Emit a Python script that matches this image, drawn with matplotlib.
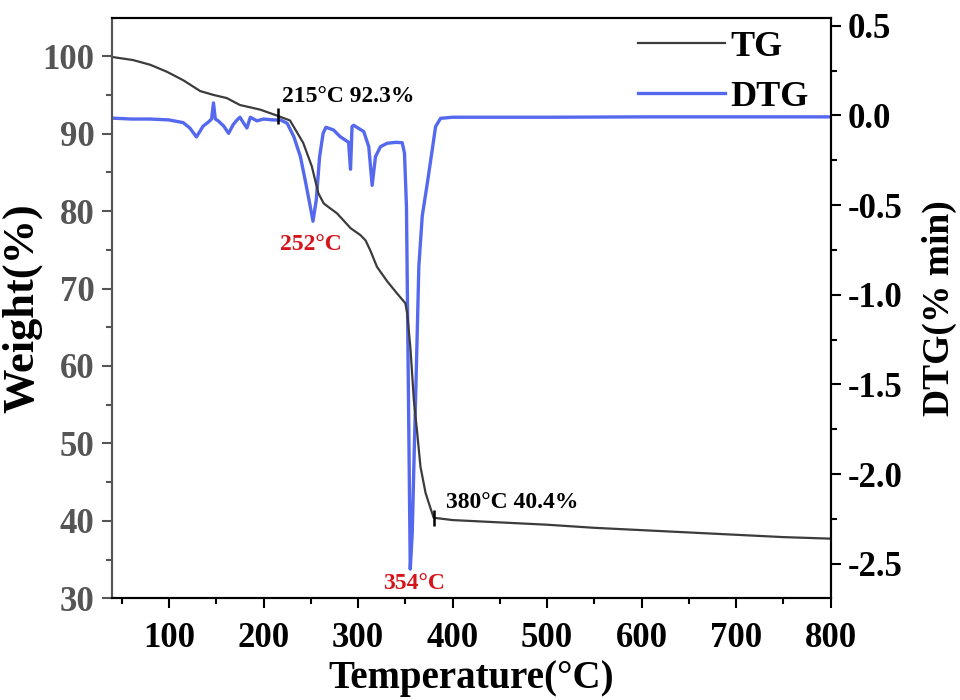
import matplotlib
matplotlib.use("Agg")
import matplotlib.pyplot as plt
from matplotlib.ticker import MultipleLocator

plt.rcParams["font.family"] = ["Liberation Serif", "DejaVu Serif"]
plt.rcParams["font.weight"] = "bold"
plt.rcParams["axes.unicode_minus"] = False

# ── data ─────────────────────────────────────────────────────────────────────
tg_temp = [40, 62, 80, 97.6, 115, 133, 147, 161, 175, 196.5, 215, 228, 242,
           251, 258, 263.6, 270, 277.8, 292, 302.5, 308, 313, 320, 331, 341,
           350, 352, 355.5, 359, 362.6, 366, 371.4, 376.7, 380, 400, 450, 500,
           550, 600, 650, 700, 750, 800]
tg_weight = [99.9, 99.5, 98.9, 98.0, 96.9, 95.5, 95.0, 94.6, 93.7, 93.1, 92.3,
             91.7, 88.8, 85.8, 82.3, 81.0, 80.4, 79.7, 77.8, 76.9, 76.2, 74.9,
             72.8, 70.9, 69.4, 68.1, 66.8, 62.1, 55.6, 51.3, 47.0, 43.6, 41.6,
             40.4, 40.1, 39.8, 39.5, 39.1, 38.8, 38.5, 38.2, 37.9, 37.7]

dtg_temp = [40, 60, 80, 100, 115, 122, 129, 136, 142, 145, 147, 149, 152, 158,
            163, 168, 172, 175, 178.6, 182.4, 186, 193, 200, 210, 218, 225,
            232, 239, 244, 249.5, 252.3, 255.8, 259.3, 263, 266, 274, 281, 290,
            291.3, 292, 292.7, 293.6, 295.4, 306, 311.3, 314.9, 318.4, 323.7,
            330.8, 340, 346.7, 349.1, 351.2, 353.7, 355.2, 357.3, 359, 360.8,
            362.6, 364.3, 367.9, 373.2, 378.5, 382, 387.3, 400, 500, 600, 700,
            800]
dtg_value = [-0.015, -0.02, -0.02, -0.025, -0.04, -0.07, -0.12, -0.06, -0.035,
             -0.02, 0.07, -0.02, -0.03, -0.06, -0.10, -0.05, -0.025, -0.01,
             -0.04, -0.07, -0.01, -0.03, -0.02, -0.025, -0.025, -0.044, -0.118,
             -0.23, -0.36, -0.51, -0.59, -0.47, -0.23, -0.10, -0.066, -0.081,
             -0.118, -0.15, -0.25, -0.30, -0.20, -0.062, -0.055, -0.09, -0.174,
             -0.39, -0.23, -0.174, -0.155, -0.15, -0.152, -0.21, -0.51, -1.77,
             -2.53, -2.33, -1.96, -1.59, -1.21, -0.84, -0.56, -0.38, -0.19,
             -0.062, -0.016, -0.01, -0.01, -0.008, -0.008, -0.008]

onset_points = [(215, 92.3), (380, 40.4)]
onset_labels = ["215°C 92.3%", "380°C 40.4%"]
peak_labels = ["252°C", "354°C"]

TG_COLOR = "#3c3c3c"
DTG_COLOR = "#5469ee"
RED = "#d4161c"
GRAY = "#555555"

# ── figure ───────────────────────────────────────────────────────────────────
fig = plt.figure(figsize=(9.6, 7), dpi=100)
ax = fig.add_axes([0.117, 0.1453, 0.7483, 0.8286])
ax2 = ax.twinx()
ax.set_zorder(ax2.get_zorder() + 1)
ax.patch.set_visible(False)

l_dtg, = ax2.plot(dtg_temp, dtg_value, color=DTG_COLOR, linewidth=2.4,
                  label="DTG")
l_tg, = ax.plot(tg_temp, tg_weight, color=TG_COLOR, linewidth=1.6, label="TG")

ax.set_xlim(40, 800)
ax.set_ylim(30, 104.9)
ax2.set_ylim(-2.693, 0.542)

ax.xaxis.set_major_locator(MultipleLocator(100))
ax.xaxis.set_minor_locator(MultipleLocator(50))
ax.yaxis.set_major_locator(MultipleLocator(10))
ax.yaxis.set_minor_locator(MultipleLocator(5))
ax2.yaxis.set_major_locator(MultipleLocator(0.5))
ax2.yaxis.set_minor_locator(MultipleLocator(0.25))

for a in (ax, ax2):
    for s in a.spines.values():
        s.set_linewidth(1.5)
    a.tick_params(which="major", direction="out", length=7, width=1.5,
                  labelsize=25)
    a.tick_params(which="minor", direction="out", length=4, width=1.5)

ax.spines["left"].set_color(GRAY)
ax2.spines["left"].set_color(GRAY)
ax.tick_params(axis="y", which="both", colors=GRAY, pad=6)
ax.tick_params(axis="x", pad=10)
ax2.tick_params(axis="y", pad=5)

ax.set_xlabel("Temperature(°C)", fontsize=28, fontweight="bold", labelpad=4)
ax.set_ylabel("Weight(%)", fontsize=32, fontweight="bold", labelpad=0)
ax2.set_ylabel("DTG(% min)", fontsize=27, fontweight="bold", labelpad=14)

# onset markers + text
for (tx, wy), txt in zip(onset_points, onset_labels):
    ax.plot([tx], [wy], marker="|", markersize=12, markeredgewidth=1.8,
            color="black")
ax.text(219, 94.8, onset_labels[0], fontsize=17, fontweight="bold",
        va="center", ha="left")
ax.text(393, 42.4, onset_labels[1], fontsize=17, fontweight="bold",
        va="center", ha="left")

ax2.text(250, -0.72, peak_labels[0], fontsize=17, fontweight="bold",
         color=RED, ha="center", va="center")
ax2.text(359, -2.61, peak_labels[1], fontsize=17, fontweight="bold",
         color=RED, ha="center", va="center")

ax.legend(handles=[l_tg, l_dtg], loc="upper left", frameon=False,
          bbox_to_anchor=(0.722, 0.991), fontsize=26, handlelength=2.4,
          handletextpad=0.15, labelspacing=0.45, borderpad=0.2,
          borderaxespad=0)

fig.savefig("out.png", dpi=100)
